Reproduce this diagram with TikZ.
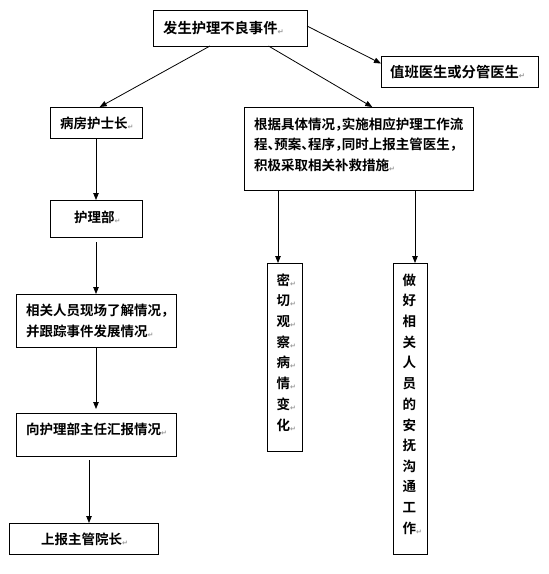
\documentclass[tikz,border=0pt]{standalone}
\usepackage{fontspec}
\usetikzlibrary{arrows.meta,calc}
\newfontfamily\cjk{Noto Sans CJK SC}[BoldFont={Noto Sans CJK SC Bold},RawFeature=+halt]
\newfontfamily\dejavusmall{DejaVu Sans}[Scale=0.52]
\newcommand\parmk{{\dejavusmall\color{gray!80}\raisebox{-1pt}{↵}}}
\begin{document}
\begin{tikzpicture}[x=1pt,y=-1pt,
  box/.style={draw,line width=0.8pt,inner sep=0pt,outer sep=0pt},
  arr/.style={line width=0.8pt,-{Triangle[length=7pt,width=5.5pt]}},
  txt/.style={font=\cjk\bfseries\fontsize{13.5}{20}\selectfont,inner sep=0pt,anchor=west},
  bigtxt/.style={txt,font=\cjk\bfseries\fontsize{14.3}{20}\selectfont},
  vch/.style={font=\cjk\bfseries\fontsize{13.5}{20}\selectfont,inner sep=0pt,anchor=west}]
\useasboundingbox (0,0) rectangle (549,574);
% boxes
\node[box,minimum width=154pt,minimum height=36pt] (top) at (230,28) {};
\node[box,minimum width=157pt,minimum height=31pt] (duty) at (459.5,71.5) {};
\node[box,minimum width=92pt,minimum height=31pt] (head) at (96,122.5) {};
\node[box,minimum width=92pt,minimum height=37pt] (dept) at (96,218.5) {};
\node[box,minimum width=229pt,minimum height=83pt] (big) at (358.5,148.5) {};
\node[box,minimum width=35pt,minimum height=188pt] (observe) at (284.5,357) {};
\node[box,minimum width=34pt,minimum height=291pt] (comfort) at (410,408.5) {};
\node[box,minimum width=160pt,minimum height=53pt] (scene) at (96,320.5) {};
\node[box,minimum width=160pt,minimum height=43pt] (report) at (96,434.5) {};
\node[box,minimum width=149pt,minimum height=31pt] (dean) at (83.5,538.5) {};
% texts
\node[bigtxt] (ttop) at (163,28) {发生护理不良事件\parmk};
\node[bigtxt] (tduty) at (390,72) {值班医生或分管医生\parmk};
\node[txt] (thead) at (60,123) {病房护士长\parmk};
\node[txt] (tdept) at (74,217) {护理部\parmk};
\node[txt] (tbig1) at (254,125) {根据具体情况，实施相应护理工作流};
\node[txt] (tbig2) at (254,145) {程、预案、程序，同时上报主管医生，};
\node[txt] (tbig3) at (254,165) {积极采取相关补救措施\parmk};
\node[txt] (tscene1) at (26,311) {相关人员现场了解情况，};
\node[txt] (tscene2) at (26,331) {并跟踪事件发展情况\parmk};
\node[txt] (treport) at (26,429) {向护理部主任汇报情况\parmk};
\node[txt] (tdean) at (41,539) {上报主管院长\parmk};
% vertical texts
\foreach \c [count=\i from 0] in {密,切,观,察,病,情,变,化}
  \node[vch] (tobs\i) at (276.5,{280+20.7*\i}) {\c\parmk};
\foreach \c [count=\i from 0] in {做,好,相,关,人,员,的,安,抚,沟,通,工}
  \node[vch] (tcom\i) at (402.5,{280+20.7*\i}) {\c};
\node[vch] (tcom12) at (402.5,{280+20.7*12}) {作\parmk};
% connectors
\draw[arr] ($(top.east)+(0,-2)$) -- ($(duty.west)+(0,-8)$);
\draw[arr] ($(top.south west)!0.37!(top.south east)$) -- ($(head.north west)!0.54!(head.north east)$);
\draw[arr] ($(top.south west)!0.75!(top.south east)$) -- ($(big.north west)!0.56!(big.north east)$);
\draw[arr] (head.south) -- (dept.north);
\draw[arr] ($(dept.south)+(0,5)$) -- (scene.north);
\draw[arr] (scene.south) -- ($(report.north)+(0,-4)$);
\coordinate (rs) at ($(report.south)+(-7,4)$);
\draw[arr] (rs) -- (rs |- dean.north);
\coordinate (o1) at ($(observe.north)+(-6.5,0)$);
\draw[arr] (big.south -| o1) -- (o1);
\coordinate (c1) at ($(comfort.north)+(5,0)$);
\draw[arr] (big.south -| c1) -- (c1);
\end{tikzpicture}
\end{document}
